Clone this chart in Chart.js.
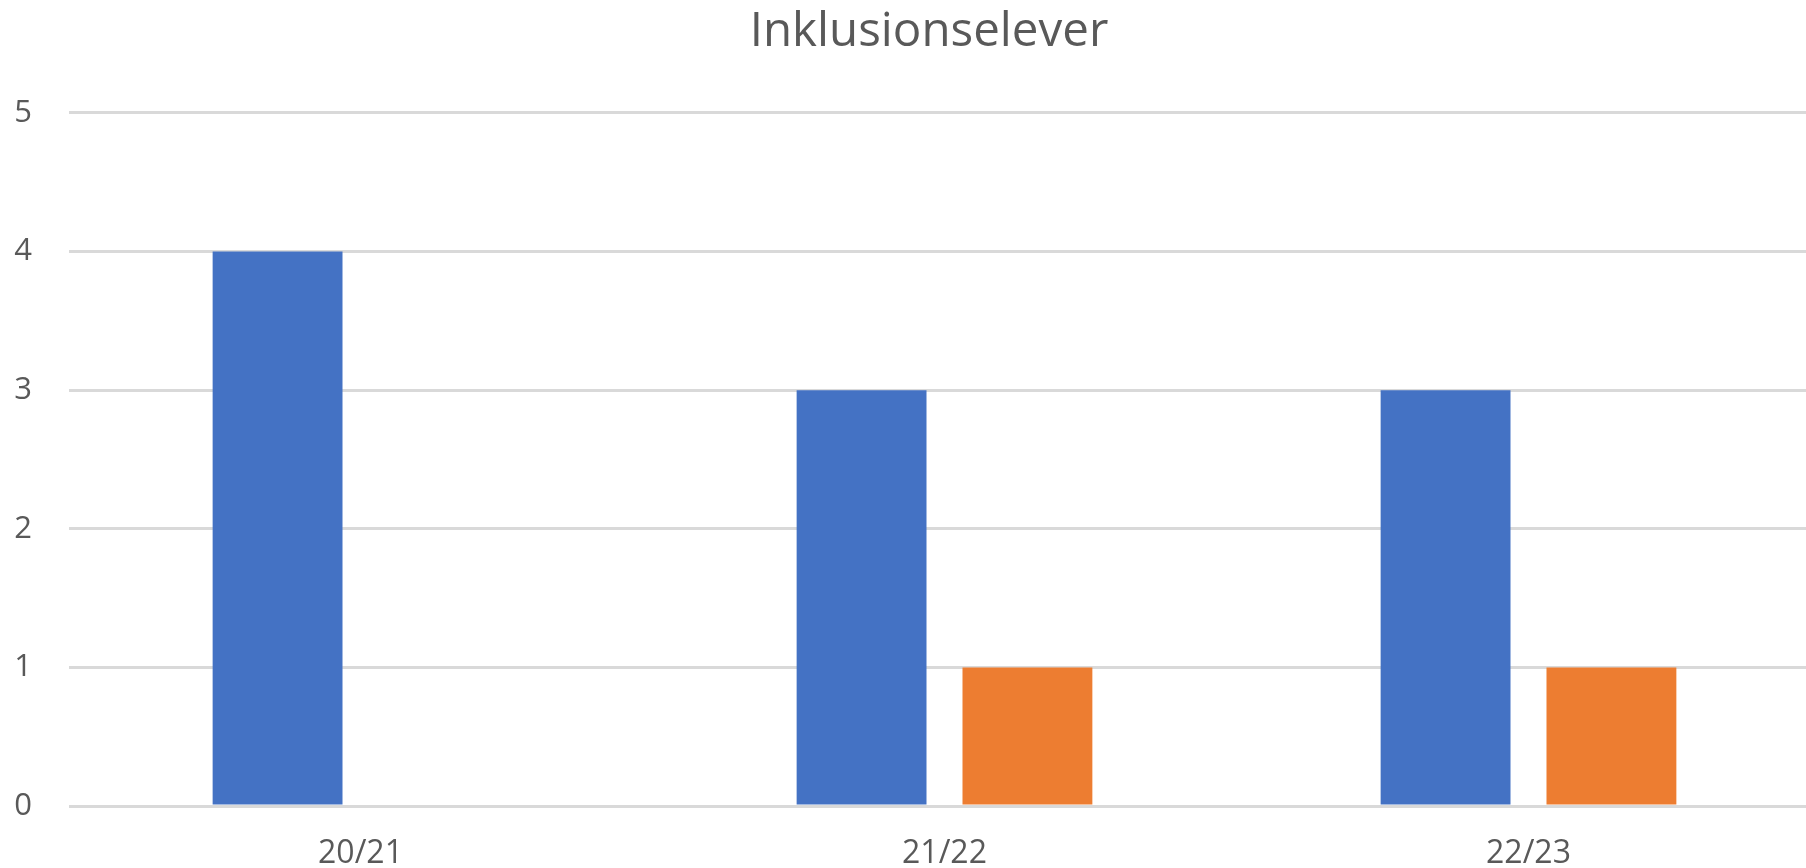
<!DOCTYPE html>
<html>
<head>
<meta charset="utf-8">
<script src="https://cdn.jsdelivr.net/npm/chart.js@4/dist/chart.umd.min.js"></script>
<style>
  html, body { margin: 0; padding: 0; background: #ffffff; overflow: hidden; width: 1806px; height: 868px; }
  canvas { display: block; }
</style>
</head>
<body>
<canvas id="c" width="1858" height="868"></canvas>
<script>
const categories = ['20/21', '21/22', '22/23'];
const series1Values = [4, 3, 3];
const series2Values = [0, 1, 1];
const series1Name = 'Serie 1';
const series2Name = 'Serie 2';
const yTicks = [0, 1, 2, 3, 4, 5];
const chartTitle = 'Inklusionselever';

const FONT = "'Open Sans', 'DejaVu Sans', sans-serif";
const TEXT = '#595959';

new Chart(document.getElementById('c'), {
  type: 'bar',
  data: {
    labels: categories,
    datasets: [
      { label: series1Name, data: series1Values, backgroundColor: '#4472C4', borderWidth: 0,
        categoryPercentage: 0.568, barPercentage: 0.783 },
      { label: series2Name, data: series2Values, backgroundColor: '#ED7D31', borderWidth: 0,
        categoryPercentage: 0.568, barPercentage: 0.783 }
    ]
  },
  options: {
    responsive: false,
    animation: false,
    devicePixelRatio: 1,
    layout: { padding: 0 },
    plugins: {
      legend: { display: false },
      tooltip: { enabled: false },
      title: {
        display: true,
        text: chartTitle,
        color: TEXT,
        font: { family: FONT, size: 47.5, weight: 'normal', lineHeight: 1.2 },
        padding: { top: 4.3, bottom: 51.6 }
      }
    },
    scales: {
      x: {
        grid: { display: false, drawTicks: false },
        border: { display: false },
        ticks: { color: TEXT, font: { family: FONT, size: 32 }, padding: 29, maxRotation: 0 },
        afterFit: (s) => { s.height = 62; }
      },
      y: {
        min: 0, max: 5,
        afterBuildTicks: (s) => { s.ticks = yTicks.map(v => ({ value: v })); },
        grid: { color: '#D9D9D9', lineWidth: 3, drawTicks: false },
        border: { display: false },
        ticks: { color: TEXT, font: { family: FONT, size: 31 }, padding: 36.5 },
        afterFit: (s) => { s.width = 68.5; }
      },
      spacer: {
        type: 'linear',
        position: 'right',
        min: 0, max: 5,
        grid: { display: false, drawTicks: false },
        border: { display: false },
        ticks: { display: false },
        afterFit: (s) => { s.width = 37.5; }
      }
    }
  }
});
</script>
</body>
</html>
